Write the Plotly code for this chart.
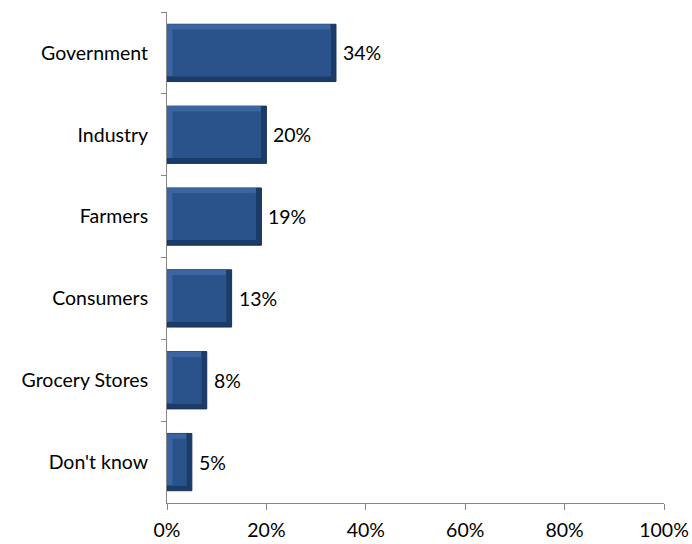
import plotly.graph_objects as go

# Survey answers and their shares (%)
categories = ["Government", "Industry", "Farmers", "Consumers", "Grocery Stores", "Don't know"]
values = [34, 20, 19, 13, 8, 5]
tick_values = [0, 20, 40, 60, 80, 100]
tick_labels = ["0%", "20%", "40%", "60%", "80%", "100%"]

FONT = "Lato"
FONT_SIZE = 19.5
BAR_W = 0.70   # bar thickness in category units
BEV_X = 1.1    # bevel thickness along the value axis (%)
BEV_Y = 0.065  # bevel thickness along the category axis

fig = go.Figure()

# Shadow layer (bottom / right bevel) with a thin dark outline
fig.add_trace(go.Bar(
    y=categories, x=values, orientation="h", width=BAR_W,
    marker=dict(color="#1b3b68", line=dict(width=1, color="#17335a")),
    hoverinfo="skip",
))
# Highlight layer (top / left bevel)
fig.add_trace(go.Bar(
    y=categories, x=[v - BEV_X for v in values], orientation="h",
    width=BAR_W - BEV_Y, offset=-BAR_W / 2,
    marker=dict(color="#3b65a0", line=dict(width=0)),
    hoverinfo="skip",
))
# Face of the bar
fig.add_trace(go.Bar(
    y=categories, x=[v - 2 * BEV_X for v in values], base=BEV_X, orientation="h",
    width=BAR_W - 2 * BEV_Y, offset=-BAR_W / 2 + BEV_Y,
    marker=dict(color="#2a528b", line=dict(width=0)),
    hoverinfo="skip",
))

# Value labels beside each bar
for c, v in zip(categories, values):
    fig.add_annotation(
        x=v, y=c, text=f"{v}%", showarrow=False, xanchor="left", xshift=5,
        font=dict(family=FONT, size=FONT_SIZE, color="#000000"),
    )

fig.update_layout(
    width=692, height=544,
    margin=dict(l=167, r=28, t=12, b=41),
    paper_bgcolor="white", plot_bgcolor="white",
    barmode="overlay", showlegend=False,
    font=dict(family=FONT, size=FONT_SIZE, color="#000000"),
)
fig.update_xaxes(
    range=[0, 100], tickvals=tick_values, ticktext=tick_labels, automargin=False,
    showgrid=False, zeroline=False, showline=True, linecolor="#868686", linewidth=1,
    ticks="outside", ticklen=6, tickcolor="#868686", ticklabelstandoff=4,
    tickfont=dict(family=FONT, size=FONT_SIZE, color="#000000"),
)
fig.update_yaxes(
    categoryorder="array", categoryarray=categories, autorange="reversed", automargin=False,
    showgrid=False, zeroline=False, showline=True, linecolor="#868686", linewidth=1,
    ticks="outside", ticklen=5, tickcolor="#868686", tickson="boundaries",
    ticklabelstandoff=14,
    tickfont=dict(family=FONT, size=FONT_SIZE, color="#000000"),
)

fig.write_html("out.html")
